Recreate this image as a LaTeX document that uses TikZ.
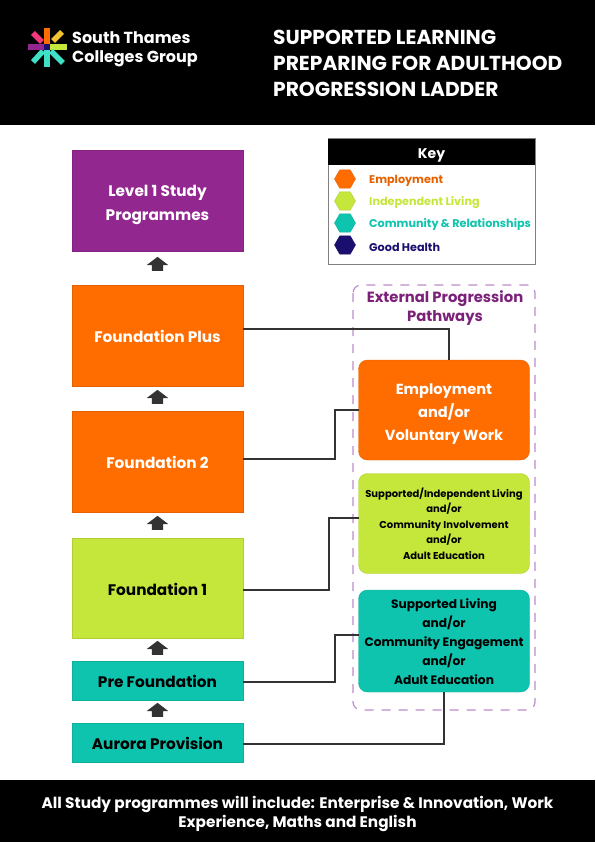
\documentclass[tikz,border=0pt]{standalone}
\usepackage{fontspec}
\setmainfont{Poppins}
\usetikzlibrary{shapes.geometric,shapes.arrows}
\definecolor{stgorange}{HTML}{FF6C00}
\definecolor{stglime}{HTML}{C5E63A}
\definecolor{stgteal}{HTML}{0EC4AE}
\definecolor{stgpurple}{HTML}{92278F}
\definecolor{stgnavy}{HTML}{1A0F6E}
\definecolor{stgdash}{HTML}{BB8CCB}
\definecolor{stgline}{HTML}{333333}
\definecolor{stgpink}{HTML}{F5387A}
\definecolor{stgsky}{HTML}{3FE0C5}
\definecolor{stgyellow}{HTML}{F2C230}
\tikzset{
  ladder/.style={draw=#1!90!black, fill=#1, line width=1pt, minimum width=171pt, outer sep=0pt, align=center, text height=15pt, font=\fontsize{15.3}{24}\selectfont\bfseries},
  pathway/.style={draw=#1!90!black, fill=#1, rounded corners=9pt, minimum width=171pt, minimum height=100pt, outer sep=0pt, align=center},
  upblock/.style={single arrow, draw=none, fill=stgline, rotate=90, text height=5.5pt, text depth=5.5pt, minimum height=14pt, single arrow head extend=5pt, single arrow tip angle=105, inner sep=0pt},
  hexa/.style={regular polygon, regular polygon sides=6, draw=#1!90!black, fill=#1, minimum size=21pt, inner sep=0pt},
  keytext/.style={anchor=west, font=\fontsize{11.2}{13}\selectfont\bfseries, text=#1},
  link/.style={draw=stgline, line width=2pt},
  petal/.style={line width=5.5pt, draw=#1}
}
\begin{document}
\begin{tikzpicture}[x=1pt,y=-1pt]
\useasboundingbox (0,0) rectangle (595,842);
\fill[black] (0,0) rectangle (595,125);
\fill[black] (0,780) rectangle (595,842);

% logo
\draw[petal=stgorange] (47,44) -- (47,28);
\draw[petal=stgyellow] (53,41) -- (62,32);
\draw[petal=stglime] (50,47) -- (67,47);
\draw[petal=stgsky] (51,51) -- (63,63);
\draw[petal=stgsky] (47,50) -- (47,67);
\draw[petal=stgsky] (43,51) -- (33,62);
\draw[petal=stgpurple] (44,47) -- (28,47);
\draw[petal=stgpink] (42,42) -- (33,33);
\fill[stgnavy] (44,44) rectangle (50,50);
\node[anchor=west, text=white, align=left, font=\fontsize{16}{19}\selectfont\bfseries, inner sep=0pt] (logo) at (72,49.5) {South Thames\\Colleges Group};

% title
\node[anchor=west, text=white, align=left, font=\fontsize{20.2}{26}\selectfont\bfseries, inner sep=0pt] (title) at (273,63) {SUPPORTED LEARNING\\PREPARING FOR ADULTHOOD\\PROGRESSION LADDER};

% ladder
\node[ladder=stgpurple, minimum height=100pt, text=white, text height=44pt] (levelone) at (157.5,201) {Level 1 Study\\Programmes};
\node[ladder=stgorange, minimum height=101pt, text=white] (fplus) at (157.5,335.5) {Foundation Plus};
\node[ladder=stgorange, minimum height=101pt, text=white] (ftwo) at (157.5,461.5) {Foundation 2};
\node[ladder=stglime, minimum height=100pt, text=black] (fone) at (157.5,588) {Foundation 1};
\node[ladder=stgteal, minimum height=39pt, text=black] (pre) at (157.5,680.5) {Pre Foundation};
\node[ladder=stgteal, minimum height=39pt, text=black] (aurora) at (157.5,742.5) {Aurora Provision};

\node[upblock] (up1) at (157.5,266) {};
\node[upblock] (up2) at (157.5,399) {};
\node[upblock] (up3) at (157.5,525) {};
\node[upblock] (up4) at (157.5,650) {};
\node[upblock] (up5) at (157.5,712) {};

% key
\draw[draw=gray, line width=1pt, fill=white] (328,139) rectangle (535,264);
\node[fill=black, text=white, minimum width=207pt, minimum height=26pt, inner sep=0pt, text height=16pt, font=\fontsize{14}{16}\selectfont\bfseries] (keyhead) at (431.5,152) {Key};
\node[hexa=stgorange] (hexemp) at (345,179) {};
\node[hexa=stglime] (hexind) at (345,201) {};
\node[hexa=stgteal] (hexcom) at (345,223) {};
\node[hexa=stgnavy] (hexgood) at (345,245) {};
\node[keytext=stgorange!90!black, inner sep=0pt] (keyemp) at (369,181) {Employment};
\node[keytext=stglime, inner sep=0pt] (keyind) at (369,203) {Independent Living};
\node[keytext=stgteal, inner sep=0pt] (keycom) at (369,225) {Community \& Relationships};
\node[keytext=stgnavy, inner sep=0pt] (keygood) at (369,247) {Good Health};

% pathways
\draw[draw=stgdash, line width=1.2pt, dash pattern=on 9pt off 8pt, rounded corners=8pt] (353,285) rectangle (535,710);
\node[text=stgpurple!85!black, align=center, font=\fontsize{14.8}{19}\selectfont\bfseries, inner sep=0pt] (exttitle) at (445,308) {External Progression\\Pathways};
\node[pathway=stgorange, text=white, text height=65pt, font=\fontsize{14.6}{23}\selectfont\bfseries] (emp) at (444,410) {Employment\\and/or\\Voluntary Work};
\node[pathway=stglime, text=black, text height=72pt, font=\fontsize{10}{15.5}\selectfont\bfseries] (sup) at (444,523.5) {Supported/Independent Living\\and/or\\Community Involvement\\and/or\\Adult Education};
\node[pathway=stgteal, text=black, minimum height=102pt, text height=87pt, font=\fontsize{12.2}{19}\selectfont\bfseries] (com) at (444,641) {Supported Living\\and/or\\Community Engagement\\and/or\\Adult Education};

\draw[link] ([yshift=6.5pt]fplus.east) -| ([xshift=5pt]emp.north);
\draw[link] ([yshift=2.5pt]ftwo.east) -- ++(92,0) |- (emp.west);
\draw[link] ([yshift=-2pt]fone.east) -- ++(86,0) |- ([yshift=5.5pt]sup.west);
\draw[link] ([yshift=-1.5pt]pre.east) -- ++(92,0) |- ([yshift=6pt]com.west);
\draw[link] ([yshift=-1.5pt]aurora.east) -| (com.south);

% footer
\node[text=white, align=center, font=\fontsize{15.3}{19}\selectfont\bfseries, inner sep=0pt] (footer) at (297.5,814) {All Study programmes will include: Enterprise \& Innovation, Work\\Experience, Maths and English};
\end{tikzpicture}
\end{document}
